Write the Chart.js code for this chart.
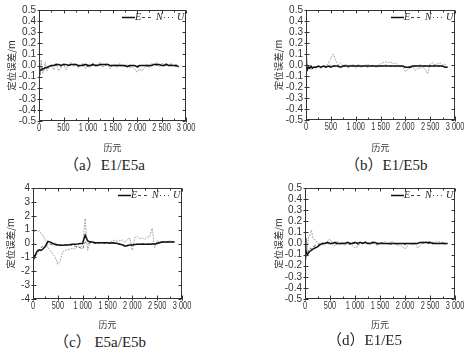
<!DOCTYPE html>
<html>
<head>
<meta charset="utf-8">
<script src="https://cdn.jsdelivr.net/npm/chart.js@4.4.1/dist/chart.umd.min.js"></script>
<style>
  body { margin: 0; background: #fff; }
  #wrap { position: relative; width: 474px; height: 354px; overflow: hidden; }
  canvas { position: absolute; }
  .cap { position: absolute; font: 15px "Liberation Serif", "Noto Sans CJK SC", serif; color: #222; line-height: 18px; white-space: pre; }
</style>
</head>
<body>
<div id="wrap">
  <canvas id="ca" width="237" height="155" style="left:0;top:0"></canvas>
  <canvas id="cb" width="237" height="155" style="left:237px;top:0"></canvas>
  <canvas id="cc" width="237" height="155" style="left:0;top:177px"></canvas>
  <canvas id="cd" width="237" height="155" style="left:237px;top:177px"></canvas>
  <div class="cap" style="left:64px;top:156px">（a）E1/E5a</div>
  <div class="cap" style="left:345px;top:156px">（b）E1/E5b</div>
  <div class="cap" style="left:54px;top:333px">（c） E5a/E5b</div>
  <div class="cap" style="left:327px;top:331px">（d）E1/E5</div>
</div>
<script>
// epochs shared by all four panels
const epochs = [0, 15, 30, 50, 75, 100, 130, 160, 200, 250,
  300, 350, 400, 450, 500, 550, 600, 650, 700, 750,
  800, 850, 900, 950, 1000, 1050, 1100, 1150, 1200, 1250,
  1300, 1350, 1400, 1450, 1500, 1550, 1600, 1650, 1700, 1750,
  1800, 1850, 1900, 1950, 2000, 2050, 2100, 2150, 2200, 2250,
  2300, 2350, 2400, 2450, 2500, 2550, 2600, 2650, 2700, 2750,
  2800, 2850];

const xTicks = [0, 500, 1000, 1500, 2000, 2500, 3000];
const xLabels = ['0', '500', '1 000', '1 500', '2 000', '2 500', '3 000'];
const seriesNames = ['E', 'N', 'U'];

// (a) E1/E5a
const eA = [-0.08, -0.05, -0.04, -0.04, -0.03, -0.03, -0.02, -0.02, -0.01, 0.00,
  0.00, 0.01, 0.01, 0.00, 0.01, 0.01, 0.00, 0.01, 0.01, 0.01,
  0.00, 0.00, 0.00, 0.01, 0.00, 0.00, 0.01, 0.00, 0.00, 0.01,
  0.01, 0.01, 0.01, 0.00, 0.00, 0.00, 0.00, 0.00, 0.00, 0.00,
  -0.01, 0.00, 0.00, 0.00, -0.01, 0.00, 0.00, 0.00, 0.00, 0.00,
  0.00, 0.01, 0.01, 0.01, 0.00, 0.00, 0.01, 0.00, 0.00, 0.00,
  0.00, -0.01];
const nA = [-0.05, -0.03, -0.04, -0.02, -0.03, -0.04, -0.01, -0.02, 0.00, -0.01,
  0.01, 0.00, 0.01, -0.01, 0.00, 0.01, 0.00, 0.00, 0.01, 0.00,
  -0.01, 0.00, 0.01, 0.00, -0.01, 0.00, 0.00, 0.01, 0.00, 0.00,
  0.01, 0.00, 0.01, 0.00, -0.01, 0.00, 0.01, 0.00, -0.01, 0.00,
  0.00, -0.01, 0.00, 0.00, -0.02, -0.01, 0.00, 0.00, -0.01, 0.00,
  0.00, 0.01, 0.00, 0.01, 0.00, 0.01, 0.00, 0.00, 0.01, 0.00,
  -0.01, 0.00];
const uA = [0.13, 0.06, -0.03, 0.05, -0.07, -0.04, 0.03, -0.05, -0.02, 0.01,
  -0.04, 0.02, -0.05, -0.02, 0.02, -0.04, 0.01, 0.03, -0.01, 0.02,
  -0.02, 0.00, 0.02, -0.03, 0.01, -0.02, 0.02, -0.01, 0.01, 0.03,
  -0.02, 0.01, 0.02, -0.03, 0.01, 0.00, -0.02, 0.02, 0.00, -0.01,
  0.01, -0.02, -0.01, -0.03, -0.06, -0.03, -0.05, -0.02, 0.01, -0.02,
  0.02, 0.01, 0.03, -0.01, 0.02, 0.01, 0.02, -0.01, 0.02, 0.00,
  0.01, -0.02];

// (b) E1/E5b
const eB = [-0.03, -0.01, -0.04, -0.02, -0.03, -0.01, -0.03, -0.02, -0.02, -0.01,
  -0.02, -0.01, -0.02, -0.01, -0.02, -0.01, -0.01, -0.01, -0.02, -0.01,
  -0.01, -0.01, -0.01, -0.01, -0.01, -0.01, -0.01, -0.01, -0.01, -0.01,
  -0.01, -0.01, -0.01, -0.01, -0.01, -0.01, -0.01, -0.01, -0.01, -0.01,
  -0.01, -0.01, -0.01, -0.01, -0.02, -0.02, -0.02, -0.01, -0.01, -0.01,
  -0.01, -0.01, -0.01, -0.01, -0.01, -0.01, -0.01, -0.01, -0.01, -0.01,
  -0.02, -0.02];
const nB = [0.01, 0.02, -0.01, 0.00, -0.02, -0.01, -0.02, -0.01, -0.02, -0.01,
  -0.02, -0.01, -0.01, -0.02, 0.00, -0.01, -0.01, -0.02, -0.01, -0.01,
  -0.01, -0.02, -0.01, 0.00, -0.01, -0.01, -0.02, -0.01, -0.01, -0.02,
  -0.01, -0.01, -0.01, -0.02, -0.01, -0.01, 0.00, -0.01, -0.01, -0.01,
  -0.01, -0.02, -0.01, -0.01, -0.02, -0.02, -0.01, -0.01, -0.01, -0.01,
  0.00, -0.01, -0.01, -0.01, -0.01, -0.01, 0.00, -0.01, -0.01, -0.01,
  -0.02, -0.02];
const uB = [0.12, 0.08, 0.00, -0.03, -0.02, -0.04, -0.03, -0.01, -0.03, -0.02,
  -0.03, -0.01, -0.02, 0.02, 0.06, 0.10, 0.04, 0.00, 0.02, -0.01,
  0.01, -0.02, 0.00, -0.01, -0.03, 0.01, -0.02, -0.01, 0.00, 0.01,
  -0.01, 0.00, -0.02, 0.00, 0.01, 0.02, 0.03, 0.02, 0.03, 0.01,
  0.02, 0.00, -0.01, -0.02, -0.06, -0.04, -0.03, -0.01, -0.05, -0.03,
  -0.03, -0.02, -0.04, -0.08, 0.01, 0.02, 0.00, 0.01, 0.02, 0.00,
  0.01, -0.02];

// (c) E5a/E5b
const eC = [-1.00, -0.90, -1.00, -0.80, -0.60, -0.50, -0.45, -0.50, -0.40, -0.20,
  0.15, 0.10, 0.00, -0.05, -0.10, -0.10, -0.12, -0.10, -0.10, -0.08,
  -0.05, -0.05, -0.03, 0.00, 0.00, 0.60, 0.20, 0.10, 0.10, 0.05,
  0.05, 0.05, 0.05, 0.05, 0.05, 0.03, 0.05, 0.03, 0.00, -0.05,
  -0.10, -0.20, -0.15, -0.10, -0.10, -0.08, -0.05, -0.05, -0.05, -0.05,
  -0.05, -0.05, -0.03, -0.03, 0.00, 0.05, 0.10, 0.10, 0.10, 0.10,
  0.10, 0.10];
const nC = [-0.80, -1.20, -1.00, -0.90, -0.70, -0.60, -0.50, -0.30, -0.20, -0.10,
  0.00, -0.05, -0.10, -0.10, -0.15, -0.15, -0.15, -0.10, -0.10, -0.10,
  -0.15, -0.20, -0.25, -0.30, -0.40, 0.10, 0.00, 0.05, 0.05, 0.00,
  0.00, 0.05, 0.05, 0.00, 0.00, 0.00, 0.05, 0.00, 0.00, -0.05,
  -0.05, -0.15, -0.20, -0.10, -0.10, -0.05, -0.05, -0.05, 0.00, -0.05,
  -0.05, 0.00, 0.00, 0.00, 0.05, 0.05, 0.10, 0.15, 0.10, 0.15,
  0.15, 0.10];
const uC = [1.60, 1.00, 0.80, 1.00, 0.90, 0.85, 0.95, 0.70, 0.60, 0.20,
  -0.30, -0.50, -0.80, -1.00, -1.50, -1.20, -0.60, -0.50, -0.45, -0.40,
  -0.35, -0.40, -0.20, -0.30, -0.10, 1.80, -0.50, 0.20, 0.10, 0.00,
  0.05, 0.10, 0.00, 0.05, 0.05, 0.10, 0.20, 0.25, 0.15, 0.20,
  0.25, 0.10, 0.30, 0.40, -0.50, 0.45, 0.50, 0.35, 0.40, 0.30,
  0.45, 0.50, 1.10, -0.30, 0.20, 0.10, 0.15, 0.05, 0.10, 0.20,
  0.10, 0.15];

// (d) E1/E5
const eD = [0.05, -0.05, -0.09, -0.10, -0.08, -0.07, -0.06, -0.05, -0.04, -0.03,
  -0.01, 0.00, 0.00, 0.01, 0.00, 0.00, 0.01, 0.00, 0.00, 0.00,
  0.00, 0.01, 0.00, 0.00, 0.01, 0.00, 0.01, 0.00, 0.01, 0.00,
  0.00, 0.01, 0.01, 0.00, 0.00, 0.00, 0.00, 0.00, 0.00, 0.00,
  0.00, 0.00, 0.00, 0.00, 0.00, 0.00, 0.00, 0.00, 0.00, 0.00,
  0.01, 0.01, 0.01, 0.01, 0.01, 0.00, 0.00, 0.00, 0.00, 0.00,
  0.00, 0.00];
const nD = [0.02, -0.06, -0.12, -0.08, -0.06, -0.04, -0.05, -0.03, -0.02, -0.02,
  0.00, -0.01, 0.01, 0.00, -0.01, 0.01, 0.00, -0.01, 0.00, 0.01,
  0.00, 0.00, -0.01, 0.01, 0.00, -0.01, 0.00, 0.01, 0.00, 0.00,
  0.01, 0.00, 0.00, -0.01, 0.00, 0.01, 0.00, 0.00, -0.01, 0.00,
  0.00, -0.01, 0.00, 0.00, -0.01, 0.00, 0.00, -0.01, 0.00, 0.00,
  0.01, 0.00, 0.01, 0.00, 0.00, 0.01, 0.00, 0.00, 0.00, 0.01,
  0.00, 0.00];
const uD = [-0.05, -0.15, -0.12, -0.02, 0.06, 0.08, 0.12, 0.05, 0.03, 0.01,
  -0.02, 0.01, 0.00, 0.02, 0.04, 0.00, -0.02, 0.02, -0.01, 0.01,
  -0.02, 0.00, 0.01, -0.02, -0.04, -0.03, 0.01, 0.00, 0.02, 0.01,
  -0.01, 0.02, 0.00, -0.02, 0.01, 0.00, 0.02, -0.01, 0.01, 0.02,
  0.00, -0.02, -0.01, -0.03, -0.05, -0.02, 0.00, -0.01, 0.01, -0.04,
  -0.02, 0.01, 0.02, 0.01, 0.02, 0.00, 0.01, 0.02, 0.01, 0.00,
  -0.01, 0.00];

const tickFont = { family: "'Liberation Sans', Arial, sans-serif", size: 10 };
const cjk = "'Noto Sans CJK SC', sans-serif";

// box frame, tick marks, squeezed x labels and the in-plot legend
const frame = {
  id: 'frame',
  afterDraw(chart) {
    const { ctx, chartArea: a, scales: { x, y } } = chart;
    const L = Math.round(a.left) + 0.5, R = Math.round(a.right) - 0.5;
    const T = Math.round(a.top) + 0.5, B = Math.round(a.bottom) - 0.5;
    ctx.save();
    ctx.strokeStyle = '#333';
    ctx.lineWidth = 1;
    ctx.strokeRect(L, T, R - L, B - T);
    ctx.beginPath();
    y.ticks.forEach(t => {
      const p = Math.round(y.getPixelForValue(t.value)) + 0.5;
      ctx.moveTo(L - 2, p); ctx.lineTo(L + 3, p);
      ctx.moveTo(R - 3, p); ctx.lineTo(R, p);
    });
    x.ticks.forEach((t, i) => {
      const p = Math.round(x.getPixelForValue(t.value)) + 0.5;
      ctx.moveTo(p, B - 3); ctx.lineTo(p, B + 2);
      ctx.moveTo(p, T); ctx.lineTo(p, T + 3);
      if (i < x.ticks.length - 1) {
        const m = Math.round(x.getPixelForValue((t.value + x.ticks[i + 1].value) / 2)) + 0.5;
        ctx.moveTo(m, B - 2); ctx.lineTo(m, B);
        ctx.moveTo(m, T); ctx.lineTo(m, T + 2);
      }
    });
    ctx.stroke();

    // x tick labels, horizontally condensed like the original
    ctx.fillStyle = '#333';
    ctx.font = "10px 'Liberation Sans', Arial, sans-serif";
    ctx.textAlign = 'center';
    ctx.textBaseline = 'top';
    xTicks.forEach((v, i) => {
      ctx.save();
      ctx.translate(x.getPixelForValue(v), B + 3);
      ctx.scale(0.74, 1);
      ctx.fillText(xLabels[i], 0, 0);
      ctx.restore();
    });

    // legend
    const r = a.right, ly = Math.round(a.top + 7) + 0.5;
    ctx.textAlign = 'left';
    ctx.font = "italic 10px 'Liberation Serif', serif";
    ctx.textBaseline = 'middle';
    ctx.fillStyle = '#222';
    ctx.beginPath();
    ctx.strokeStyle = '#111'; ctx.lineWidth = 1.5;
    ctx.moveTo(r - 64, ly); ctx.lineTo(r - 51, ly); ctx.stroke();
    ctx.fillText(seriesNames[0], r - 51, ly);
    ctx.beginPath();
    ctx.strokeStyle = '#444'; ctx.lineWidth = 1; ctx.setLineDash([3, 3]);
    ctx.moveTo(r - 44, ly); ctx.lineTo(r - 32, ly); ctx.stroke();
    ctx.fillText(seriesNames[1], r - 30, ly);
    ctx.beginPath();
    ctx.strokeStyle = '#555'; ctx.setLineDash([1, 3]);
    ctx.moveTo(r - 22, ly); ctx.lineTo(r - 11, ly); ctx.stroke();
    ctx.setLineDash([]);
    ctx.fillText(seriesNames[2], r - 9, ly);
    ctx.restore();
  }
};

function makeChart(id, E, N, U, box, yRange) {
  const pts = arr => epochs.map((ep, i) => ({ x: ep, y: arr[i] }));
  new Chart(document.getElementById(id), {
    type: 'line',
    data: {
      datasets: [
        { label: 'E', data: pts(E), borderColor: '#111', borderWidth: 1.5 },
        { label: 'N', data: pts(N), borderColor: '#666', borderWidth: 1, borderDash: [3, 2] },
        { label: 'U', data: pts(U), borderColor: '#a8a8a8', borderWidth: 1, borderDash: [2, 1] }
      ]
    },
    options: {
      responsive: false,
      devicePixelRatio: 1,
      animation: false,
      elements: { point: { radius: 0 }, line: { tension: 0 } },
      layout: { padding: { left: box.padL, right: box.padR, top: box.padT, bottom: 0 } },
      plugins: { legend: { display: false }, tooltip: { enabled: false } },
      scales: {
        x: {
          type: 'linear', min: 0, max: 3000,
          afterFit: s => { s.height = box.xH; },
          afterBuildTicks: s => { s.ticks = xTicks.map(v => ({ value: v })); },
          grid: { display: false, drawTicks: false },
          border: { display: false },
          ticks: { display: false },
          title: { display: true, text: '历元', font: { family: cjk, size: 9 }, color: '#333', padding: { top: 0, bottom: 2 } }
        },
        y: {
          min: yRange.min, max: yRange.max,
          afterFit: s => { s.width = box.yW; },
          grid: { display: false, drawTicks: false },
          border: { display: false },
          ticks: { font: tickFont, color: '#333', padding: 3, stepSize: yRange.step, autoSkip: false,
            callback: v => v.toFixed(yRange.digits) },
          title: { display: true, text: '定位误差/m', font: { family: cjk, size: 9.5 }, color: '#333', padding: { top: box.titlePad, bottom: 0 } }
        }
      }
    },
    plugins: [frame]
  });
}

const small = { min: -0.5, max: 0.5, step: 0.1, digits: 1 };
const large = { min: -4, max: 4, step: 1, digits: 0 };

makeChart('ca', eA, nA, uA, { padL: 0, padR: 51, padT: 10, yW: 39, xH: 34, titlePad: 6 }, small);
makeChart('cb', eB, nB, uB, { padL: 30, padR: 19, padT: 10, yW: 39, xH: 35, titlePad: 6 }, small);
makeChart('cc', eC, nC, uC, { padL: 0, padR: 55, padT: 11, yW: 33, xH: 33, titlePad: 5 }, large);
makeChart('cd', eD, nD, uD, { padL: 29, padR: 19, padT: 11, yW: 39, xH: 33, titlePad: 7 }, small);
</script>
</body>
</html>
